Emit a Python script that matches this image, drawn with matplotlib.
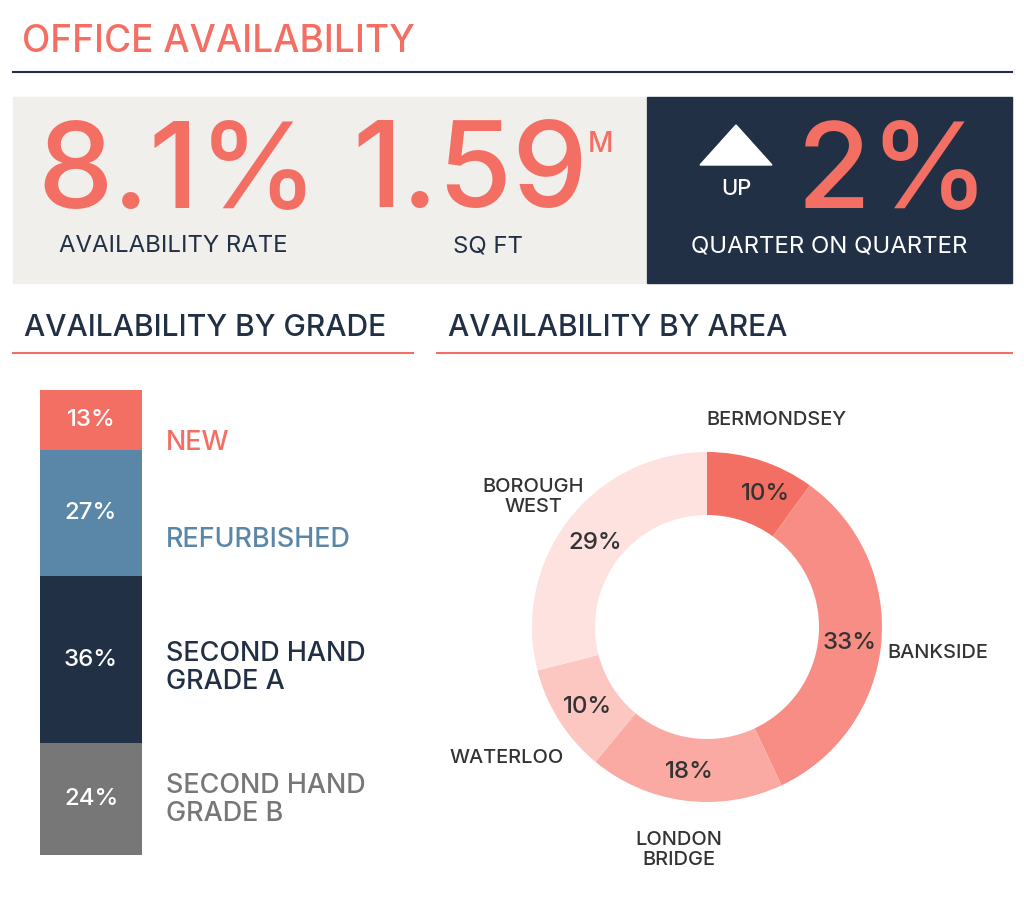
import matplotlib
matplotlib.use("Agg")
import matplotlib.pyplot as plt
from matplotlib.patches import Rectangle

grades = ["NEW", "REFURBISHED", "SECOND HAND\nGRADE A", "SECOND HAND\nGRADE B"]
grade_vals = [13, 27, 36, 24]
grade_colors = ["#F46F63", "#5A86A8", "#223046", "#777777"]
areas = ["BERMONDSEY", "BANKSIDE", "LONDON\nBRIDGE", "WATERLOO", "BOROUGH\nWEST"]
area_vals = [10, 33, 18, 10, 29]
area_colors = ["#F46F63", "#F88D85", "#FAAAA3", "#FCC6C1", "#FDE2DF"]
kpi_rate, kpi_sqft, kpi_change = "8.1%", "1.59", "2%"

SAL = "#F46F63"; NAVY = "#223046"
FONT = "Inter"
W, H = 1024, 915
fig = plt.figure(figsize=(W/100, H/100), dpi=100)
bg = fig.add_axes([0, 0, 1, 1]); bg.set_xlim(0, W); bg.set_ylim(H, 0); bg.axis("off")
def pt(px): return px*0.72
M = "medium"

bg.text(22, 42, "OFFICE AVAILABILITY", color=SAL, fontsize=pt(37), family=FONT, weight=M, va="center", ha="left")
bg.plot([13, 1012], [72, 72], color=NAVY, lw=1.5)
bg.add_patch(Rectangle((13, 97), 632, 186, color="#F1EFEC"))
bg.add_patch(Rectangle((647, 97), 365, 186, color=NAVY))
bg.text(178, 176, kpi_rate, color=SAL, fontsize=pt(120), family=FONT, weight=M, va="center", ha="center")
bg.text(173, 246, "AVAILABILITY RATE", color=NAVY, fontsize=pt(24), family=FONT, va="center", ha="center")
bg.text(470, 176, kpi_sqft, color=SAL, fontsize=pt(120), family=FONT, weight=M, va="center", ha="center")
bg.text(600, 145, "M", color=SAL, fontsize=pt(28), family=FONT, weight=M, va="center", ha="center")
bg.text(488, 246, "SQ FT", color=NAVY, fontsize=pt(24), family=FONT, va="center", ha="center")
bg.fill([700, 772, 736], [165, 165, 125], color="white")
bg.text(736, 189, "UP", color="white", fontsize=pt(22), family=FONT, weight=M, va="center", ha="center")
bg.text(893, 176, kpi_change, color=SAL, fontsize=pt(120), family=FONT, weight=M, va="center", ha="center")
bg.text(829, 246, "QUARTER ON QUARTER", color="white", fontsize=pt(24), family=FONT, va="center", ha="center")

bg.text(24, 328, "AVAILABILITY BY GRADE", color=NAVY, fontsize=pt(30), family=FONT, weight=M, va="center", ha="left")
bg.plot([13, 413], [353, 353], color=SAL, lw=1.5)
bg.text(448, 328, "AVAILABILITY BY AREA", color=NAVY, fontsize=pt(30), family=FONT, weight=M, va="center", ha="left")
bg.plot([437, 1012], [353, 353], color=SAL, lw=1.5)

# stacked bar
bax = fig.add_axes([40/W, 1-855/H, 102/W, 465/H])
bax.set_xlim(0, 1); bax.set_ylim(sum(grade_vals), 0); bax.axis("off")
bottom = 0
lab_y = [443, 540, 668, 800]
for i, (v, c, name, ly) in enumerate(zip(grade_vals, grade_colors, grades, lab_y)):
    bax.bar(0.5, v, width=1, bottom=bottom, color=c)
    bax.text(0.5, bottom+v/2, f"{v}%", color="white", fontsize=pt(24), family=FONT, weight=M, ha="center", va="center")
    bottom += v
    bg.text(166, ly, name, color=c, fontsize=pt(27), family=FONT, weight=M, ha="left", va="center", linespacing=1.1)

# donut
R = 175; cx, cy = 707, 627
pax = fig.add_axes([(cx-R)/W, 1-(cy+R)/H, 2*R/W, 2*R/H])
wedges, _ = pax.pie(area_vals, colors=area_colors, startangle=90, counterclock=False,
                    radius=1, wedgeprops=dict(width=0.36, edgecolor="none"))
pax.set_xlim(-1, 1); pax.set_ylim(-1, 1); pax.set_aspect("equal"); pax.axis("off")

top = fig.add_axes([0, 0, 1, 1]); top.set_xlim(0, W); top.set_ylim(H, 0); top.axis("off")
pct_pos = [(765, 494), (850, 643), (689, 772), (587, 707), (595, 543)]
name_pos = [(776, 420, "center"), (887, 653, "left"), (679, 850, "center"), (507, 758, "center"), (533, 497, "center")]
for v, (px, py), (nx, ny, ha), n in zip(area_vals, pct_pos, name_pos, areas):
    top.text(px, py, f"{v}%", color="#333333", fontsize=pt(24), family=FONT, weight=M, ha="center", va="center")
    top.text(nx, ny, n, color="#333333", fontsize=pt(20), family=FONT, weight=M, ha=ha, va="center", linespacing=1.15)

fig.savefig("out.png", dpi=100)
